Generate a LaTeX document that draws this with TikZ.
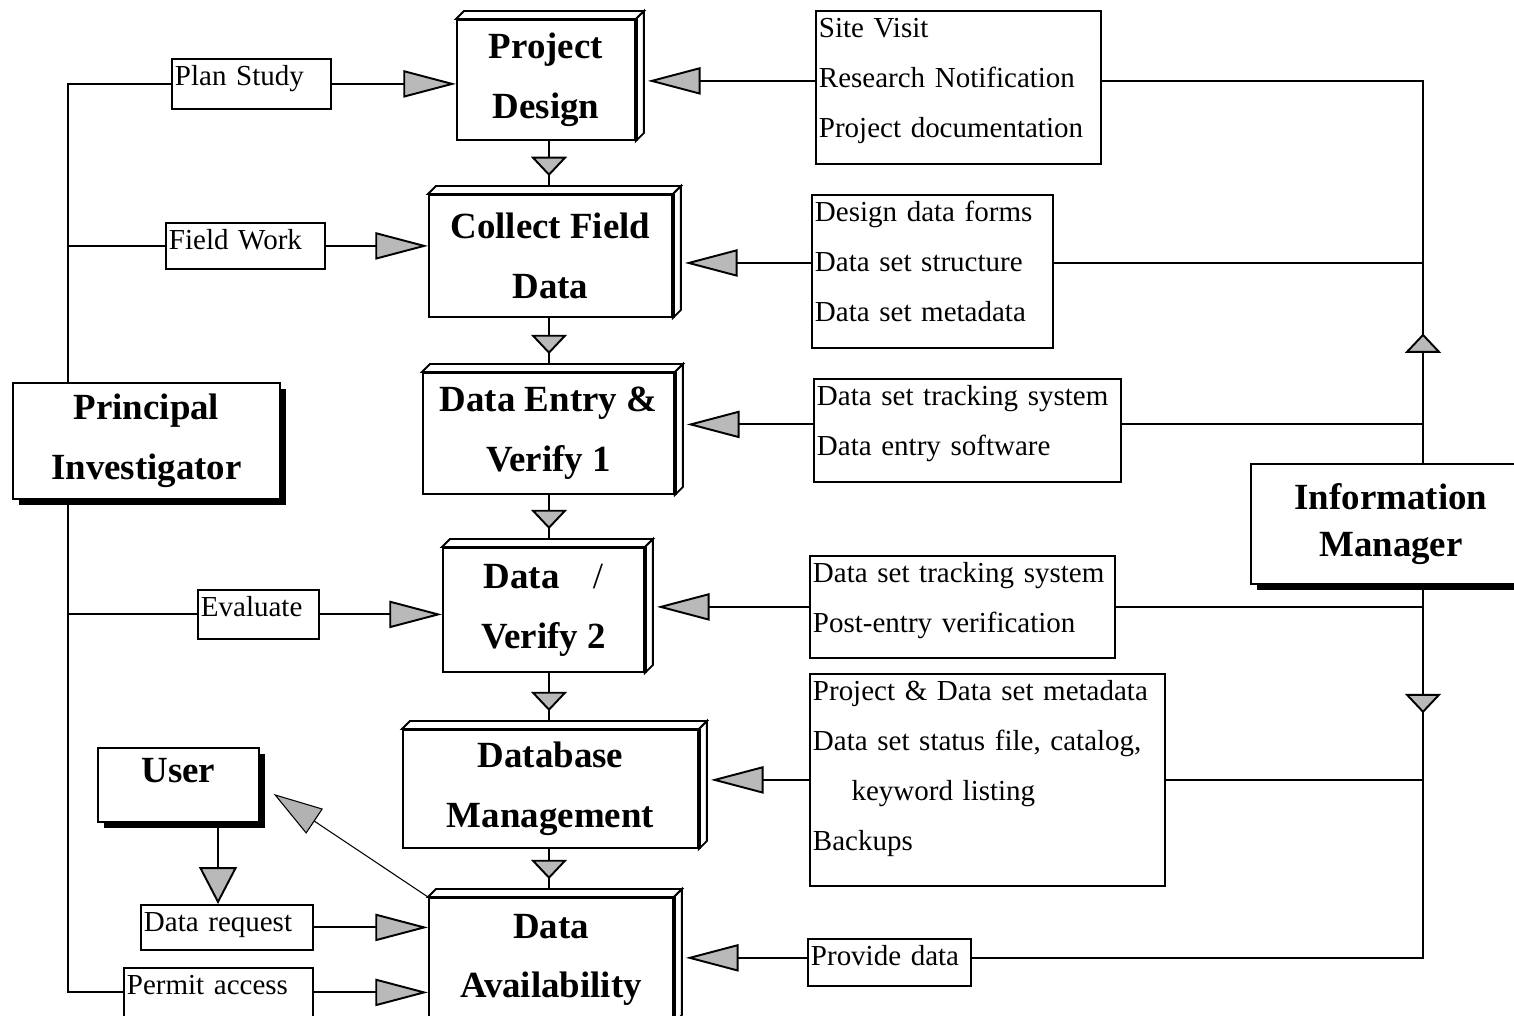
\documentclass[tikz,border=0pt]{standalone}
\usepackage{fontspec}
\setmainfont{Liberation Serif}
\usetikzlibrary{arrows.meta,shadows,decorations.markings}
\newdimen\pxu
\pxu=0.02cm
\tikzset{
 proc/.style={draw, fill=white, anchor=north west, inner sep=0pt, align=center, font=\fontsize{21}{34}\selectfont\bfseries},
 role/.style={proc, drop shadow={shadow xshift=3.4pt, shadow yshift=-3.4pt, opacity=1, fill=black}},
 info/.style={draw, fill=white, anchor=north west, inner xsep=3\pxu, inner ysep=0pt, align=left, text height=15.3pt, font=\fontsize{16.5}{28.4}\selectfont},
 flow/.style={-{Triangle[length=30pt, width=15.5pt, fill=gray!55]}},
 midtip/.style={postaction={decorate}, decoration={markings, mark=at position #1 with {\arrow{Triangle[length=11pt, width=20.5pt, fill=gray!55]}}}},
}
\begin{document}
\begin{tikzpicture}[x=0.02cm, y=-0.02cm, line width=1.1pt]
\useasboundingbox (0,0) rectangle (1514,1016);

\node (design) at (456,19) [proc, minimum width=178\pxu, minimum height=120\pxu]{Project\\Design};
\node (collect) at (428,194) [proc, minimum width=243\pxu, minimum height=122\pxu]{Collect Field\\Data};
\node (entry) at (422,372) [proc, minimum width=251\pxu, minimum height=121\pxu]{Data Entry \&\\Verify 1};
\node (verify) at (442,547) [proc, minimum width=201\pxu, minimum height=124\pxu]{Data\hspace{0.9em}{\mdseries /}\\Verify 2};
\node (dbase) at (402,729) [proc, minimum width=295\pxu, minimum height=118\pxu]{Database\\Management};
\node (avail) at (428,897) [proc, minimum width=244\pxu, minimum height=124\pxu]{Data\\Availability};

\foreach \n in {design,collect,entry,verify,dbase,avail}{
 \draw[fill=white] (\n.north west) -- ([shift={(8,-8)}]\n.north west) -- ([shift={(8,-8)}]\n.north east) -- (\n.north east) -- cycle;
 \draw[fill=white] (\n.north east) -- ([shift={(8,-8)}]\n.north east) -- ([shift={(8,-8)}]\n.south east) -- (\n.south east) -- cycle;
 \draw[line width=2.2pt] (\n.north east) -- (\n.south east);
}

\node (princ) at (12,382) [role, minimum width=267\pxu, minimum height=116\pxu]{Principal\\Investigator};
\node (infoman) at (1250,463) [role, minimum width=280\pxu, minimum height=120\pxu]{Information\\[-7pt]Manager};
\node (user) at (97,747) [role, minimum width=161\pxu, text height=19.8pt, text depth=22.1pt]{User};

\node (plan) at (171,58) [info, text width=153\pxu, text depth=23\pxu]{Plan Study};
\node (field) at (165,222) [info, text width=153\pxu, text depth=19\pxu]{Field Work};
\node (eval) at (197,589) [info, text width=115\pxu, text depth=22\pxu]{Evaluate};
\node (request) at (140,904) [info, text width=166\pxu, text depth=18\pxu]{Data request};
\node (permit) at (123,967) [info, text width=183\pxu, text depth=22\pxu]{Permit access};

\node (site) at (815,10) [info, text width=279\pxu, text depth=126\pxu]{Site Visit\\Research Notification\\Project documentation};
\node (forms) at (811,194) [info, text width=235\pxu, text depth=126\pxu]{Design data forms\\Data set structure\\Data set metadata};
\node (track) at (813,378) [info, text width=301\pxu, text depth=76\pxu]{Data set tracking system\\Data entry software};
\node (post) at (809,555) [info, text width=299\pxu, text depth=75\pxu]{Data set tracking system\\Post-entry verification};
\node (meta) at (809,673) [info, text width=349\pxu, text depth=185\pxu]{Project \& Data set metadata\\Data set status file, catalog,\\\hspace*{22pt}keyword listing\\Backups};
\node (provide) at (807,938) [info, text width=157\pxu, text depth=20\pxu]{Provide data};

\coordinate (spine) at (549,0);
\coordinate (trunk) at (68,0);
\coordinate (rail) at (1423,0);
\coordinate (ask) at (218,0);

\foreach \a/\b in {design/collect,collect/entry,entry/verify,verify/dbase,dbase/avail}
 \draw[midtip=-5.7pt] (\a.south -| spine) -- ([yshift=4.5pt]\b.north -| spine);

\draw (princ.north -| trunk) -- (plan.west -| trunk) -- (plan.west);
\draw (field.west) -- (field.west -| trunk);
\draw (eval.west) -- (eval.west -| trunk);
\draw (princ.south -| trunk) -- (permit.west -| trunk) -- (permit.west);

\draw[flow] (plan.east) -- (plan.east -| design.west);
\draw[flow] (field.east) -- (field.east -| collect.west);
\draw[flow] (eval.east) -- (eval.east -| verify.west);
\draw[flow] (request.east) -- (request.east -| avail.west);
\draw[flow] (permit.east) -- (permit.east -| avail.west);

\draw[flow, shorten >=6.8pt] ([yshift=3.7pt]site.west) -- ([yshift=3.7pt]site.west -| design.east);
\draw[flow, shorten >=6.8pt] ([yshift=4.8pt]forms.west) -- ([yshift=4.8pt]forms.west -| collect.east);
\draw[flow, shorten >=6.8pt] ([yshift=3.4pt]track.west) -- ([yshift=3.4pt]track.west -| entry.east);
\draw[flow, shorten >=6.8pt] (post.west) -- (post.west -| verify.east);
\draw[flow, shorten >=6.8pt] (meta.west) -- (meta.west -| dbase.east);
\draw[flow, shorten >=6.8pt] ([yshift=2.6pt]provide.west) -- ([yshift=2.6pt]provide.west -| avail.east);

\draw[midtip=73.7pt] (infoman.north -| rail) -- ([yshift=3.7pt]site.east -| rail) -- ([yshift=3.7pt]site.east);
\draw ([yshift=4.8pt]forms.east) -- ([yshift=4.8pt]forms.east -| rail);
\draw ([yshift=3.4pt]track.east) -- ([yshift=3.4pt]track.east -| rail);
\draw[midtip=73pt] (infoman.south -| rail) -- ([yshift=2.6pt]provide.east -| rail) -- ([yshift=2.6pt]provide.east);
\draw (post.east) -- (post.east -| rail);
\draw (meta.east) -- (meta.east -| rail);

\draw[-{Triangle[length=21pt, width=21.5pt, fill=gray!55]}] (user.south -| ask) -- (request.north -| ask);
\draw[line width=0.6pt, -{Triangle[length=28pt, width=17pt, fill=gray!60]}, shorten >=9.4pt] (avail.north west) -- (user.east);

\end{tikzpicture}
\end{document}
